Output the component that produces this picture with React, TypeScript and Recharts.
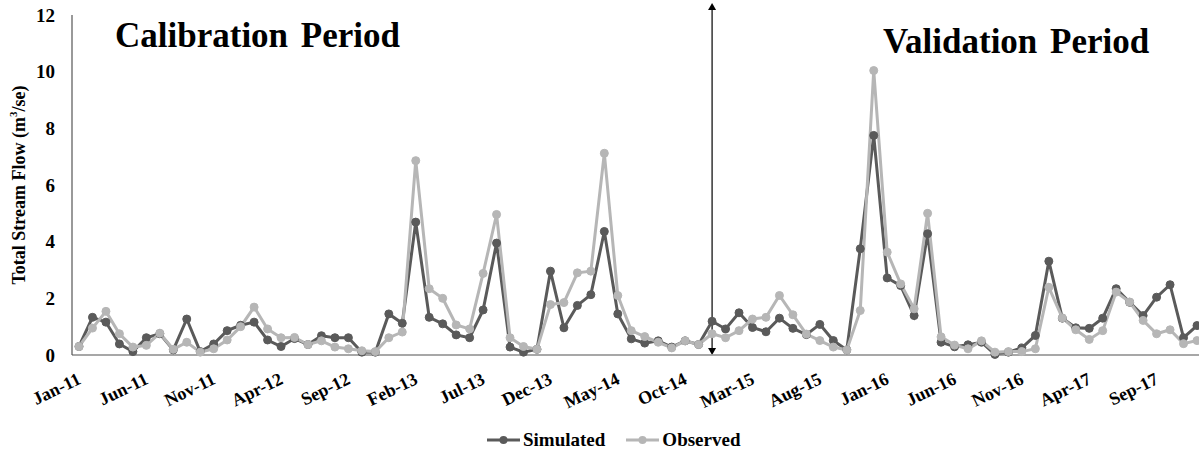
import React from "react";
import {
  LineChart,
  Line,
  XAxis,
  YAxis,
  Legend,
  ReferenceLine,
  Label,
} from "recharts";

const FONT = "'Liberation Serif', 'Times New Roman', serif";

const monthNames = ["Jan", "Feb", "Mar", "Apr", "May", "Jun", "Jul", "Aug", "Sep", "Oct", "Nov", "Dec"];
const years = ["11", "12", "13", "14", "15", "16", "17"];
const months = years.flatMap((yr) => monthNames.map((m) => `${m}-${yr}`));

const simulated = [
  0.3, 1.33, 1.16, 0.39, 0.12, 0.61, 0.75, 0.18, 1.27, 0.12, 0.39, 0.86,
  1.05, 1.16, 0.53, 0.3, 0.58, 0.37, 0.68, 0.61, 0.61, 0.1, 0.1, 1.45,
  1.12, 4.69, 1.33, 1.1, 0.71, 0.61, 1.59, 3.95, 0.28, 0.1, 0.2, 2.96,
  0.96, 1.75, 2.13, 4.36, 1.45, 0.57, 0.42, 0.5, 0.28, 0.5, 0.37, 1.19,
  0.92, 1.49, 0.97, 0.82, 1.3, 0.94, 0.72, 1.08, 0.51, 0.18, 3.75, 7.75,
  2.72, 2.45, 1.39, 4.28, 0.45, 0.29, 0.36, 0.45, 0.02, 0.1, 0.25, 0.69,
  3.31, 1.3, 0.96, 0.94, 1.3, 2.34, 1.86, 1.39, 2.04, 2.48, 0.61, 1.04,
];

const observed = [
  0.3, 0.95, 1.54, 0.75, 0.28, 0.34, 0.77, 0.2, 0.45, 0.1, 0.22, 0.53,
  1.0, 1.69, 0.92, 0.61, 0.62, 0.37, 0.5, 0.28, 0.22, 0.15, 0.12, 0.61,
  0.81, 6.86, 2.34, 2.0, 1.06, 0.92, 2.88, 4.96, 0.61, 0.3, 0.2, 1.78,
  1.85, 2.9, 2.96, 7.12, 2.1, 0.86, 0.65, 0.45, 0.25, 0.5, 0.37, 0.75,
  0.61, 0.86, 1.27, 1.33, 2.1, 1.42, 0.74, 0.51, 0.28, 0.18, 1.57, 10.04,
  3.63, 2.51, 1.63, 5.0, 0.64, 0.35, 0.22, 0.5, 0.1, 0.12, 0.12, 0.22,
  2.39, 1.31, 0.89, 0.55, 0.86, 2.22, 1.87, 1.22, 0.75, 0.89, 0.4, 0.51,
];

const yTicks = [0, 2, 4, 6, 8, 10, 12];
const splitMonth = "Dec-14";
const legendOrder = ["Simulated", "Observed"];

const data = months.map((m, i) => ({
  month: m,
  simulated: simulated[i],
  observed: observed[i],
}));

const XTick = (props: any) => {
  const { x, y, payload } = props;
  const tx = x + 3;
  const ty = y + 28;
  return (
    <text
      x={tx}
      y={ty}
      transform={`rotate(-26, ${tx}, ${ty})`}
      textAnchor="end"
      fontFamily={FONT}
      fontWeight="bold"
      fontSize={18}
      fill="#000"
    >
      {payload.value}
    </text>
  );
};

const Arrow = (props: any) => {
  const { x1, y1, y2 } = props;
  const top = Math.min(y1, y2);
  const bottom = Math.max(y1, y2);
  return (
    <g>
      <line x1={x1} y1={top + 4} x2={x1} y2={bottom - 4} stroke="#000" strokeWidth={1.2} />
      <path d={`M${x1},${top} L${x1 - 4},${top + 7} L${x1 + 4},${top + 7} Z`} fill="#000" />
      <path d={`M${x1},${bottom} L${x1 - 4},${bottom - 7} L${x1 + 4},${bottom - 7} Z`} fill="#000" />
    </g>
  );
};

const LegendContent = (props: any) => {
  const items = [...(props.payload || [])].sort(
    (a: any, b: any) => legendOrder.indexOf(a.value) - legendOrder.indexOf(b.value)
  );
  return (
    <div style={{ display: "flex", alignItems: "center", height: 24, fontFamily: FONT, fontWeight: "bold", fontSize: 19 }}>
      {items.map((entry: any) => (
        <div key={entry.value} style={{ display: "flex", alignItems: "center", marginRight: 21 }}>
          <svg width={33} height={12}>
            <line x1={0} y1={6} x2={33} y2={6} stroke={entry.color} strokeWidth={3} />
            <circle cx={16.5} cy={6} r={4} fill={entry.color} />
          </svg>
          <span style={{ marginLeft: 3 }}>{entry.value}</span>
        </div>
      ))}
    </div>
  );
};

const YLabel = (props: any) => {
  const { viewBox } = props;
  const x = viewBox.x + 19;
  const y = viewBox.y + viewBox.height / 2;
  return (
    <text
      x={x}
      y={y}
      transform={`rotate(-90, ${x}, ${y})`}
      textAnchor="middle"
      dominantBaseline="central"
      fontFamily={FONT}
      fontWeight="bold"
      fontSize={18}
      fill="#000"
    >
      Total Stream Flow (m<tspan dy={-6} fontSize={11}>3</tspan>
      <tspan dy={6}>/se)</tspan>
    </text>
  );
};

export default function App() {
  return (
    <div
      style={{
        position: "fixed",
        left: 0,
        top: 0,
        width: 1199,
        height: 453,
        overflow: "hidden",
        background: "#fff",
      }}
    >
      <LineChart
        width={1206}
        height={453}
        data={data}
        margin={{ top: 15, right: 2, bottom: 1, left: 0 }}
      >
        <XAxis
          dataKey="month"
          interval={4}
          tick={<XTick />}
          tickLine={false}
          tickSize={0}
          tickMargin={0}
          height={73}
          padding={{ left: 7, right: 7 }}
          axisLine={{ stroke: "#8a8a8a", strokeWidth: 1.5 }}
        />
        <YAxis
          width={72}
          domain={[0, 12]}
          ticks={yTicks}
          tickLine={false}
          tickSize={0}
          tickMargin={17}
          axisLine={{ stroke: "#555", strokeWidth: 1.2 }}
          tick={{ fontFamily: FONT, fontWeight: "bold", fontSize: 19, fill: "#000" }}
        >
          <Label content={<YLabel />} />
        </YAxis>
        <Legend
          verticalAlign="bottom"
          content={<LegendContent />}
          wrapperStyle={{ left: 487, width: 300 }}
        />
        <Line
          type="linear"
          dataKey="simulated"
          name="Simulated"
          stroke="#5a5a5a"
          strokeWidth={3}
          dot={{ r: 4, fill: "#5a5a5a", stroke: "#5a5a5a", strokeWidth: 1 }}
          isAnimationActive={false}
        />
        <Line
          type="linear"
          dataKey="observed"
          name="Observed"
          stroke="#b6b6b6"
          strokeWidth={3}
          dot={{ r: 4, fill: "#b6b6b6", stroke: "#b6b6b6", strokeWidth: 1 }}
          isAnimationActive={false}
        />
        <ReferenceLine
          segment={[
            { x: splitMonth, y: 12.42 },
            { x: splitMonth, y: 0 },
          ]}
          ifOverflow="visible"
          shape={<Arrow />}
        />
      </LineChart>
      <svg
        width={1199}
        height={453}
        style={{ position: "absolute", left: 0, top: 0, pointerEvents: "none" }}
      >
        <text x={115} y={47} fontFamily={FONT} fontWeight="bold" fontSize={35} wordSpacing={4} fill="#000">
          Calibration Period
        </text>
        <text x={883} y={53} fontFamily={FONT} fontWeight="bold" fontSize={35} wordSpacing={4} fill="#000">
          Validation Period
        </text>
      </svg>
    </div>
  );
}
